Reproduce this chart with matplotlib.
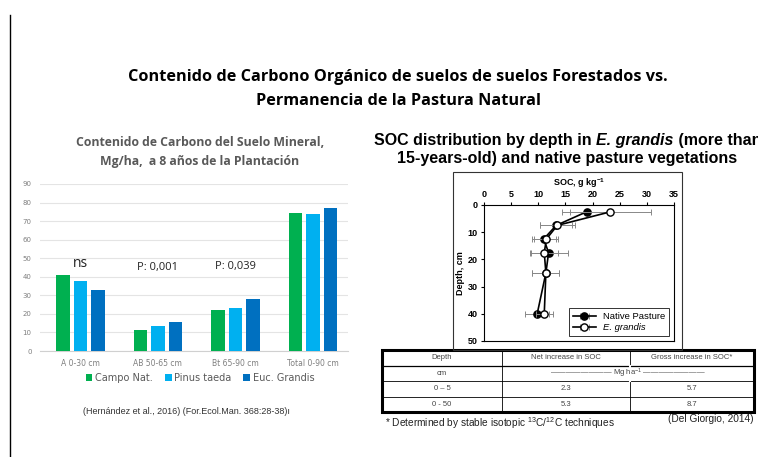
import numpy as np
import matplotlib.pyplot as plt
from matplotlib.patches import Rectangle
from matplotlib.lines import Line2D

plt.rcParams["mathtext.fontset"] = "custom"
plt.rcParams["mathtext.rm"] = "Liberation Sans"
plt.rcParams["mathtext.it"] = "Liberation Sans:italic:bold"
plt.rcParams["mathtext.bf"] = "Liberation Sans:bold"

W, H = 758, 457

# ---- left chart data (Hernández et al., 2016) ----
horizons = ["A 0-30 cm", "AB 50-65 cm", "Bt 65-90 cm", "Total 0-90 cm"]
campo_nat = [41, 11.5, 22, 74.5]
pinus_taeda = [37.5, 13.5, 23, 74]
euc_grandis = [33, 15.5, 28, 77]
signif = ["ns", "P: 0,001", "P: 0,039"]
signif_y = [47, 45, 45.5]

# ---- right chart data (Del Giorgio, 2014) ----
depth = [2.5, 7.5, 12.5, 17.5, 25, 40]
soc_native = [18.9, 13.3, 11.0, 11.9, 11.4, 9.8]
err_native = [4.6, 3.0, 2.2, 3.5, 2.5, 2.2]
soc_egrandis = [23.3, 13.5, 11.5, 11.1, 11.4, 11.1]
err_egrandis = [7.4, 3.2, 2.2, 2.5, 2.5, 1.6]

tab_header = ["Depth", "Net increase in SOC", "Gross increase in SOC*"]
tab_units = ["cm", "———————— Mg ha$^{-1}$ ————————"]
tab_depths = ["0 – 5", "0 - 50"]
tab_net = ["2.3", "5.3"]
tab_gross = ["5.7", "8.7"]

c_green, c_light, c_blue = "#00B050", "#00B0F0", "#0070C0"
gray = "#595959"


def fx(px):
    return px / W


def fy(py):
    return 1 - py / H


fig = plt.figure(figsize=(W / 100, H / 100), dpi=100)
fig.patch.set_facecolor("white")
renderer = fig.canvas.get_renderer()

# slide edge line
fig.add_artist(Line2D([fx(10), fx(10)], [fy(15), fy(457)], color="black", lw=1))

fig.text(fx(398), fy(77), "Contenido de Carbono Orgánico de suelos de suelos Forestados vs.",
         ha="center", va="center", fontsize=11.7, fontweight="bold", family="Open Sans")
fig.text(fx(398), fy(101), "Permanencia de la Pastura Natural",
         ha="center", va="center", fontsize=11.7, fontweight="bold", family="Open Sans")

# ---- left bar chart ----
fig.text(fx(200), fy(143), "Contenido de Carbono del Suelo Mineral,", ha="center", va="center",
         fontsize=8.8, fontweight="bold", color=gray, family="Open Sans")
fig.text(fx(200), fy(162), "Mg/ha,  a 8 años de la Plantación", ha="center", va="center",
         fontsize=8.8, fontweight="bold", color=gray, family="Open Sans")

ax = fig.add_axes([fx(40), fy(351), fx(348) - fx(40), fy(184) - fy(351)])
x = np.arange(len(horizons))
bw = 0.175
ax.bar(x - 0.225, campo_nat, bw, color=c_green, label="Campo Nat.", zorder=3)
ax.bar(x, pinus_taeda, bw, color=c_light, label="Pinus taeda", zorder=3)
ax.bar(x + 0.225, euc_grandis, bw, color=c_blue, label="Euc. Grandis", zorder=3)
for i, s in enumerate(signif):
    ax.text(x[i], signif_y[i], s, ha="center", va="center", family="Open Sans",
            fontsize=10 if s == "ns" else 8, color="#222222")
ax.set_ylim(0, 90)
ax.set_xlim(-0.52, 3.45)
ax.set_yticks(range(0, 91, 10))
ax.set_xticks(x)
ax.set_xticklabels(horizons)
ax.tick_params(axis="y", length=0, labelsize=5, labelcolor="#7f7f7f", pad=6)
ax.tick_params(axis="x", length=0, labelsize=5.5, labelcolor="#7f7f7f", pad=6)
ax.grid(axis="y", color="#e4e4e4", lw=0.8, zorder=0)
for sp in ["top", "right", "left"]:
    ax.spines[sp].set_visible(False)
ax.spines["bottom"].set_color("#d0d0d0")
ax.legend(loc="center", bbox_to_anchor=(0.52, -0.16), ncol=3, frameon=False, fontsize=7,
          handlelength=0.7, handleheight=0.7, handletextpad=0.3, columnspacing=1.2,
          labelcolor="#595959")
fig.text(fx(186), fy(412), "(Hernández et al., 2016) (For.Ecol.Man. 368:28-38)ı", ha="center",
         va="center", fontsize=6.5, color="#333333", family="Liberation Sans")

# ---- right profile chart ----
# title line 1 built from pieces so that only the species name is italic
title_parts = [("SOC distribution by depth in ", "normal"), ("E. grandis", "italic"),
               (" (more than", "normal")]
xpos = fx(374)
for txt, style in title_parts:
    t = fig.text(xpos, fy(140), txt, ha="left", va="center", fontsize=11.5,
                 fontweight="bold", style=style, family="Liberation Sans")
    bb = t.get_window_extent(renderer)
    xpos += bb.width / W
fig.text(fx(567), fy(158), "15-years-old) and native pasture vegetations",
         ha="center", va="center", fontsize=11.5, fontweight="bold", family="Liberation Sans")

fig.add_artist(Rectangle((fx(453), fy(350)), fx(682) - fx(453), fy(172) - fy(350),
                         transform=fig.transFigure, fill=False, ec="#333333", lw=0.8))

ax2 = fig.add_axes([fx(484), fy(341), fx(674) - fx(484), fy(205) - fy(341)])
ax2.errorbar(soc_native, depth, xerr=err_native, color="black", marker="o", ms=5.2,
             mfc="black", mec="black", lw=1.2, ecolor="#888888", elinewidth=0.7,
             capsize=2, capthick=0.7, label="Native Pasture", zorder=3)
ax2.errorbar(soc_egrandis, depth, xerr=err_egrandis, color="black", marker="o", ms=5.2,
             mfc="white", mec="black", lw=1.2, ecolor="#888888", elinewidth=0.7,
             capsize=2, capthick=0.7, label="E. grandis", zorder=4)
ax2.set_xlim(0, 35)
ax2.set_ylim(50, 0)
ax2.set_xticks(range(0, 36, 5))
ax2.set_yticks(range(0, 51, 10))
ax2.xaxis.tick_top()
ax2.xaxis.set_label_position("top")
ax2.tick_params(labelsize=6.5, length=2.5, direction="out", pad=2)
for lab in ax2.get_xticklabels() + ax2.get_yticklabels():
    lab.set_fontweight("bold")
    lab.set_family("Liberation Sans")
ax2.set_xlabel("SOC, g kg$^{\\mathbf{-1}}$", fontsize=6.5, fontweight="bold",
               family="Liberation Sans", labelpad=3)
ax2.set_ylabel("Depth, cm", fontsize=6.5, fontweight="bold", family="Liberation Sans",
               labelpad=2)
for sp in ax2.spines.values():
    sp.set_linewidth(0.8)
leg = ax2.legend(loc="lower right", frameon=True, fancybox=False,
                 edgecolor="black", handlelength=2.4, borderpad=0.4, labelspacing=0.25,
                 prop={"family": "Liberation Sans", "size": 6.8})
leg.get_frame().set_linewidth(0.7)
leg.get_texts()[1].set_style("italic")

# ---- table ----
axt = fig.add_axes([fx(382), fy(412), fx(754) - fx(382), fy(350) - fy(412)])
axt.set_xlim(0, 1)
axt.set_ylim(0, 4)
axt.axis("off")
col_edges = [0, (502 - 382) / 372, (630 - 382) / 372, 1]
col_mid = [(col_edges[i] + col_edges[i + 1]) / 2 for i in range(3)]
axt.add_patch(Rectangle((0, 0), 1, 4, fill=False, ec="black", lw=2.2, clip_on=False))
for r in [1, 2, 3]:
    axt.plot([0, 1], [r, r], color="black", lw=0.9 if r == 3 else 0.6)
for c in col_edges[1:3]:
    axt.plot([c, c], [0, 4], color="black", lw=0.6)
axt.plot([col_edges[2], col_edges[2]], [2.03, 2.97], color="white", lw=1.5)
tkw = dict(ha="center", va="center", fontsize=5.5, color="#444444", family="Liberation Sans")
for i, t in enumerate(tab_header):
    axt.text(col_mid[i], 3.5, t, **tkw)
axt.text(col_mid[0], 2.5, tab_units[0], **tkw)
axt.text((col_edges[1] + 1) / 2, 2.5, tab_units[1], **tkw)
for j in range(2):
    axt.text(col_mid[0], 1.5 - j, tab_depths[j], **tkw)
    axt.text(col_mid[1], 1.5 - j, tab_net[j], **tkw)
    axt.text(col_mid[2], 1.5 - j, tab_gross[j], **tkw)

fig.text(fx(385), fy(423), "* Determined by stable isotopic $^{13}$C/$^{12}$C techniques",
         ha="left", va="center", fontsize=7.3, color="#222222", family="Liberation Sans")
fig.text(fx(754), fy(419), "(Del Giorgio, 2014)", ha="right", va="center", fontsize=7.3,
         color="#222222", family="Liberation Sans")

fig.savefig("out.png", dpi=100)
